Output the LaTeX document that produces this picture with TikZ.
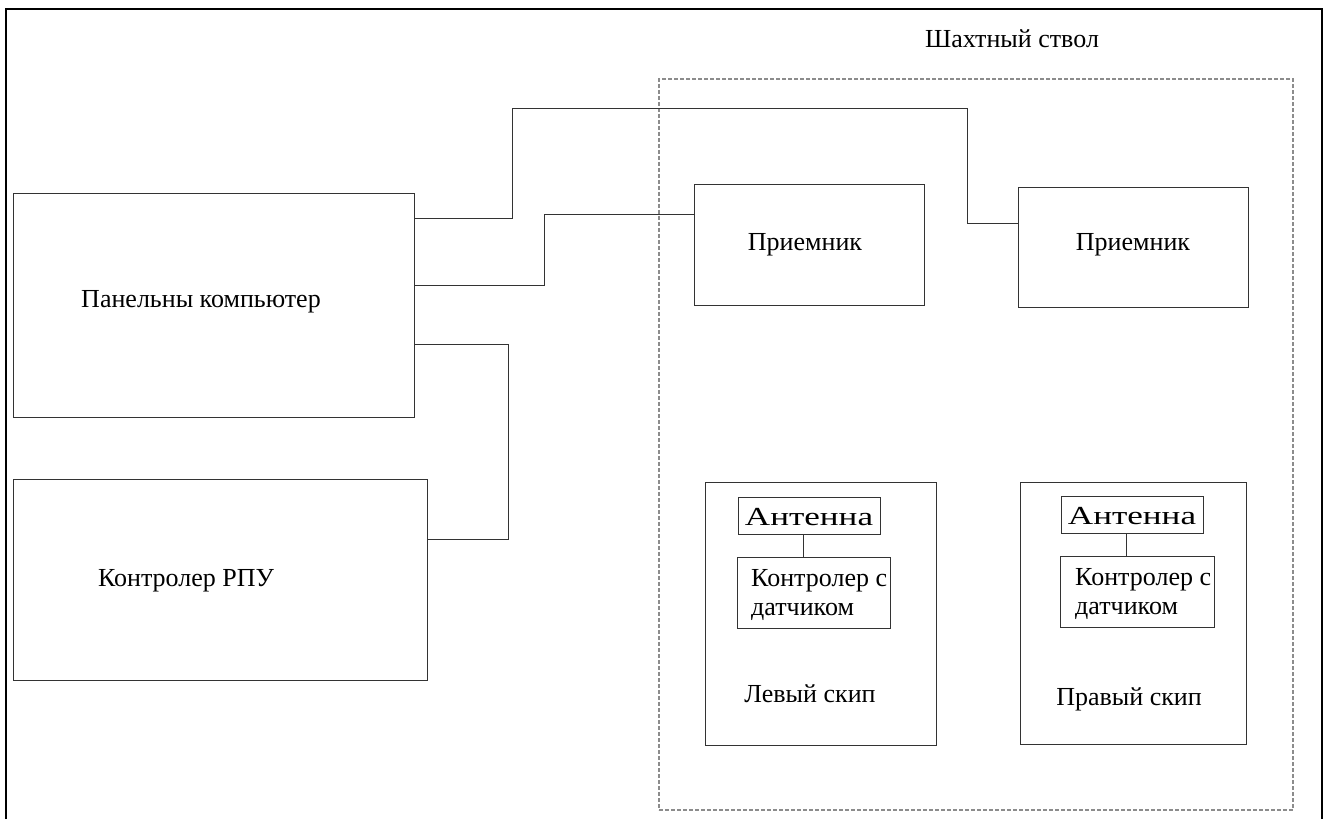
\documentclass[tikz,border=0pt]{standalone}
\usepackage{fontspec}
\setmainfont{Liberation Serif}
\begin{document}
\begin{tikzpicture}[x=1pt,y=-1pt,
  box/.style={draw=black!80, line width=1pt, rectangle, inner sep=0pt},
  wire/.style={draw=black!80, line width=1pt},
  lbl/.style={inner sep=0pt, font=\fontsize{26}{29}\selectfont},
  shaft/.style={draw=black!45, line width=1.6pt, dash pattern=on 4pt off 2pt, rectangle, inner sep=0pt},
  frame/.style={draw=black, line width=2.5pt}]
\useasboundingbox (0,0) rectangle (1329,819);
\draw[frame] (6,819) -- (6,9) -- (1322,9) -- (1322,819);
% shaft
\node[shaft, minimum width=634pt, minimum height=731pt] (shaft) at (976,444.5) {};
\node[lbl] (shaftlbl) at (1012,39) {Шахтный ствол};
% left boxes
\node[box, minimum width=401pt, minimum height=224pt] (panel) at (213.5,305) {};
\node[lbl] (panellbl) at (201,302) {Панельны компьютер};
\node[box, minimum width=414pt, minimum height=201pt] (rpu) at (220,579.5) {};
\node[lbl] (rpulbl) at (186,581) {Контролер РПУ};
% receivers
\node[box, minimum width=230pt, minimum height=121pt] (rec1) at (809,244.5) {};
\node[lbl] (rec1lbl) at (805,245) {Приемник};
\node[box, minimum width=230pt, minimum height=120pt] (rec2) at (1133,247) {};
\node[lbl] (rec2lbl) at (1133,245) {Приемник};
% skips
\node[box, minimum width=231pt, minimum height=263pt] (lskip) at (820.5,613.5) {};
\node[lbl] (lskiplbl) at (810,694) {Левый скип};
\node[box, minimum width=226pt, minimum height=262pt] (rskip) at (1133,613) {};
\node[lbl] (rskiplbl) at (1129,699) {Правый скип};
% antennas and controllers
\node[box, minimum width=142pt, minimum height=37pt] (ant1) at (809,515.5) {};
\node[lbl] (ant1lbl) at (809,517) {\scalebox{1.35}[1]{Антенна}};
\node[box, minimum width=153pt, minimum height=71pt] (ctl1) at (813.5,592.5) {};
\node[lbl, anchor=west, align=left] (ctl1lbl) at (751,595) {Контролер с\\датчиком};
\node[box, minimum width=142pt, minimum height=37pt] (ant2) at (1132,514.5) {};
\node[lbl] (ant2lbl) at (1132,516) {\scalebox{1.35}[1]{Антенна}};
\node[box, minimum width=154pt, minimum height=71pt] (ctl2) at (1137,591.5) {};
\node[lbl, anchor=west, align=left] (ctl2lbl) at (1075,594) {Контролер с\\датчиком};
\draw[wire] (ant1.south -| 803,0) -- (ctl1.north -| 803,0);
\draw[wire] (ant2.south -| 1126,0) -- (ctl2.north -| 1126,0);
% connectors
\draw[wire] (panel.east |- 0,218) -- (512,218) -- (512,108) -- (967,108) -- (967,223) -- (rec2.west |- 0,223);
\draw[wire] (panel.east |- 0,285) -- (544,285) -- (544,214) -- (rec1.west |- 0,214);
\draw[wire] (panel.east |- 0,344) -- (508,344) -- (508,539) -- (rpu.east |- 0,539);
\end{tikzpicture}
\end{document}
